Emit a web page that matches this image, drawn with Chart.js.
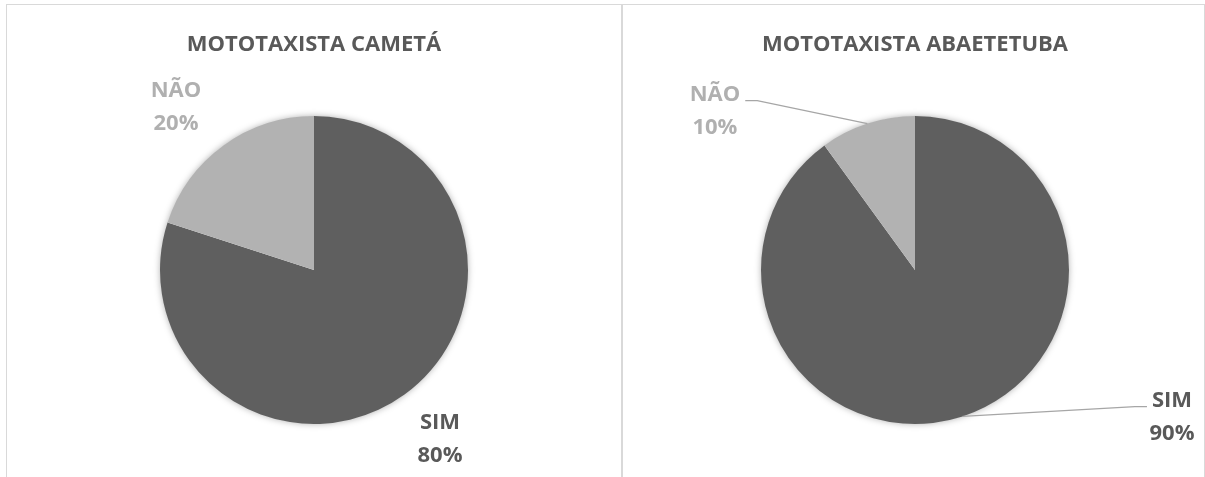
<!DOCTYPE html>
<html>
<head>
<meta charset="utf-8">
<script src="https://cdn.jsdelivr.net/npm/chart.js@4.4.1/dist/chart.umd.min.js"></script>
<style>
  html, body { margin: 0; padding: 0; background: #fff; overflow: hidden; }
  body { width: 1205px; height: 477px; position: relative; }
  .painel { position: absolute; top: 4px; height: 480px; border: 1px solid #d9d9d9; box-sizing: border-box; }
  #painelCameta { left: 6px; width: 616px; }
  #painelAbaete { left: 622px; width: 583px; }
  .grafico { position: absolute; top: 0; height: 477px; }
  #boxCameta { left: 0; width: 628px; }
  #boxAbaete { left: 625px; width: 580px; }
</style>
</head>
<body>
<div class="painel" id="painelCameta"></div>
<div class="painel" id="painelAbaete"></div>
<div class="grafico" id="boxCameta"><canvas id="chartCameta"></canvas></div>
<div class="grafico" id="boxAbaete"><canvas id="chartAbaete"></canvas></div>
<script>
// ------------- DADOS
const categorias = ['SIM', 'NÃO'];
const valoresCameta = [80, 20];
const valoresAbaete = [90, 10];
const titulos = ['MOTOTAXISTA CAMETÁ', 'MOTOTAXISTA ABAETETUBA'];

const coresFatia = ['#5f5f5f', '#b2b2b2'];
const coresRotulo = ['#595959', '#b0b0b0'];
const fonte = "'Open Sans', 'DejaVu Sans', sans-serif";

// ---------- SOMBRA SUAVE ATRAS DA PIZZA
const sombraPlugin = {
  id: 'sombra',
  beforeDatasetsDraw(chart) {
    const arc = chart.getDatasetMeta(0).data[0];
    if (!arc) return;
    const ctx = chart.ctx;
    ctx.save();
    ctx.shadowColor = 'rgba(0,0,0,0.35)';
    ctx.shadowBlur = 7;
    ctx.fillStyle = '#fff';
    ctx.beginPath();
    ctx.arc(arc.x, arc.y, arc.outerRadius - 0.5, 0, Math.PI * 2);
    ctx.fill();
    ctx.restore();
  }
};

// ---------- ROTULOS (CATEGORIA + PERCENTUAL) COM LINHA GUIA
const rotulosPlugin = {
  id: 'rotulos',
  afterDatasetsDraw(chart, args, opts) {
    const ctx = chart.ctx;
    const meta = chart.getDatasetMeta(0);
    const dados = chart.data.datasets[0].data;
    const total = dados.reduce((a, b) => a + b, 0);
    ctx.save();
    ctx.font = 'bold ' + opts.tamanho + 'px ' + fonte;
    ctx.textAlign = 'center';
    ctx.textBaseline = 'middle';
    meta.data.forEach(function (arc, i) {
      const r = arc.outerRadius;
      const pos = opts.posicoes[i];
      const lx = arc.x + pos[0] * r;
      const ly = arc.y + pos[1] * r;
      const linha1 = chart.data.labels[i];
      const linha2 = Math.round(dados[i] / total * 100) + '%';
      if (opts.guia && opts.guia[i]) {
        const meio = (arc.startAngle + arc.endAngle) / 2;
        const px = arc.x + Math.cos(meio) * r;
        const py = arc.y + Math.sin(meio) * r;
        const larg = ctx.measureText(linha1).width;
        const lado = lx > arc.x ? -1 : 1;
        const fimX = lx + lado * (larg / 2 + 5);
        const fimY = ly - opts.espaco / 2 + 6;
        ctx.strokeStyle = '#a6a6a6';
        ctx.lineWidth = 1.3;
        ctx.beginPath();
        ctx.moveTo(px, py);
        ctx.lineTo(fimX + lado * 12, fimY);
        ctx.lineTo(fimX, fimY);
        ctx.stroke();
      }
      ctx.fillStyle = coresRotulo[i];
      ctx.fillText(linha1, lx, ly - opts.espaco / 2);
      ctx.fillText(linha2, lx, ly + opts.espaco / 2);
    });
    ctx.restore();
  }
};

function criarPizza(idCanvas, titulo, valores, posicoes, guia) {
  const ctx = document.getElementById(idCanvas).getContext('2d');
  return new Chart(ctx, {
    type: 'pie',
    data: {
      labels: categorias,
      datasets: [{
        data: valores,
        backgroundColor: coresFatia,
        borderWidth: 0
      }]
    },
    options: {
      responsive: true,
      maintainAspectRatio: false,
      animation: false,
      events: [],
      layout: { padding: { top: 0, bottom: 53, left: 0, right: 0 } },
      plugins: {
        legend: { display: false },
        tooltip: { enabled: false },
        title: {
          display: true,
          text: titulo,
          color: '#595959',
          font: { family: fonte, size: 22, weight: 'bold', lineHeight: 1.2 },
          padding: { top: 31.3, bottom: 58.3 }
        },
        rotulos: { tamanho: 22, espaco: 33, posicoes: posicoes, guia: guia }
      }
    },
    plugins: [sombraPlugin, rotulosPlugin]
  });
}

criarPizza('chartCameta', titulos[0], valoresCameta,
  [[0.818, 1.1], [-0.896, -1.058]], null);
criarPizza('chartAbaete', titulos[1], valoresAbaete,
  [[1.669, 0.955], [-1.299, -1.032]], [true, true]);
</script>
</body>
</html>
